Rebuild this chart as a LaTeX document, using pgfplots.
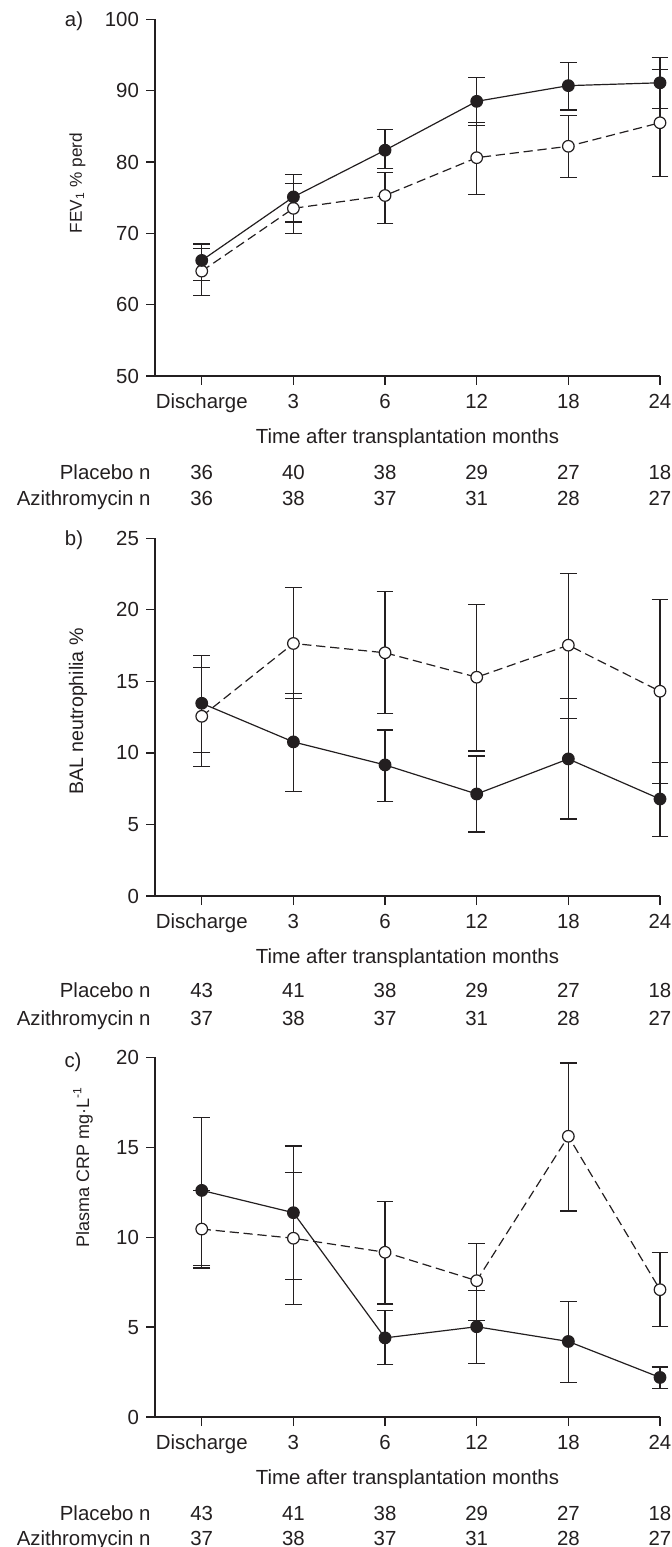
\documentclass[border=0pt]{standalone}
\usepackage{fontspec}
\setmainfont{Liberation Sans}
\usepackage{pgfplots}
\pgfplotsset{compat=1.18}

\definecolor{ink}{RGB}{35,31,32}
\newcommand{\lbl}{\fontsize{10.2}{12}\selectfont}

% one row of group sizes under a panel: ymin, shift, label, six counts
\newcommand{\nrow}[9]{%
  \node[anchor=base east, xshift=-2pt, yshift=#2, font=\lbl, text=ink, inner sep=0pt] at (axis cs:-0.51,#1) {#3};
  \node[anchor=base, yshift=#2, font=\lbl, text=ink, inner sep=0pt] at (axis cs:0,#1) {#4};
  \node[anchor=base, yshift=#2, font=\lbl, text=ink, inner sep=0pt] at (axis cs:1,#1) {#5};
  \node[anchor=base, yshift=#2, font=\lbl, text=ink, inner sep=0pt] at (axis cs:2,#1) {#6};
  \node[anchor=base, yshift=#2, font=\lbl, text=ink, inner sep=0pt] at (axis cs:3,#1) {#7};
  \node[anchor=base, yshift=#2, font=\lbl, text=ink, inner sep=0pt] at (axis cs:4,#1) {#8};
  \node[anchor=base, yshift=#2, font=\lbl, text=ink, inner sep=0pt] at (axis cs:5,#1) {#9};
}

\pgfplotsset{
  panel/.style={
    scale only axis, width=252.5pt, clip=false,
    xmin=-0.51, xmax=5,
    axis x line*=bottom, axis y line*=left,
    axis line style={ink, line width=0.6pt, -},
    tick align=outside, major tick length=4.5pt,
    tick style={ink, line width=0.6pt},
    xtick={0,...,5},
    xticklabels={Discharge,3,6,12,18,24},
    ticklabel style={font=\lbl, text=ink},
    xticklabel style={yshift=-1pt},
    /pgf/number format/assume math mode=true,
  },
  werr/.style={
    error bars/y dir=both, error bars/y explicit,
    error bars/error bar style={solid, line width=0.6pt, ink},
    error bars/error mark options={solid, ink, line width=0.6pt, mark size=4.2pt, rotate=90},
  },
  azi/.style={werr, ink, line width=0.6pt, mark=*, mark size=2.9pt,
    mark options={solid, fill=ink, draw=ink}},
  pla/.style={werr, ink, line width=0.6pt, dash pattern=on 4.6pt off 2.4pt, mark=*, mark size=2.9pt,
    mark options={solid, fill=white, draw=ink}},
}

\begin{document}
\begin{tikzpicture}
\useasboundingbox (0,0) rectangle (336pt,-773.5pt);

% ---------- a) ----------
\begin{axis}[panel, height=178.35pt, at={(77.5pt,-9.65pt)}, anchor=north west,
  ymin=50, ymax=100, ytick={50,60,...,100}]
  \addplot[pla] coordinates {
    (0,64.7) += (0,3.2) -= (0,3.4)
    (1,73.5) += (0,3.5) -= (0,3.55)
    (2,75.3) += (0,3.2) -= (0,3.9)
    (3,80.6) += (0,4.9) -= (0,5.15)
    (4,82.2) += (0,4.35) -= (0,4.4)
    (5,85.5) += (0,7.5) -= (0,7.5)
  };
  \addplot[azi] coordinates {
    (0,66.2) += (0,2.3) -= (0,2.8)
    (1,75.1) += (0,3.2) -= (0,3.5)
    (2,81.65) += (0,2.85) -= (0,2.55)
    (3,88.5) += (0,3.3) -= (0,3.35)
    (4,90.7) += (0,3.3) -= (0,3.4)
    (5,91.1) += (0,3.6) -= (0,3.6)
  };
  \node[anchor=base, yshift=-33.8pt, font=\lbl, text=ink, inner sep=0pt] at (axis cs:2.245,50) {Time after transplantation months};
  \nrow{50}{-52pt}{Placebo n}{36}{40}{38}{29}{27}{18}
  \nrow{50}{-64.8pt}{Azithromycin n}{36}{38}{37}{31}{28}{27}
\end{axis}

% ---------- b) ----------
\begin{axis}[panel, height=178.85pt, at={(77.5pt,-269.15pt)}, anchor=north west,
  ymin=0, ymax=25, ytick={0,5,...,25}]
  \addplot[pla] coordinates {
    (0,12.56) += (0,3.43) -= (0,3.49)
    (1,17.65) += (0,3.89) -= (0,3.87)
    (2,17.0) += (0,4.28) -= (0,4.27)
    (3,15.29) += (0,5.08) -= (0,5.15)
    (4,17.53) += (0,5.03) -= (0,5.15)
    (5,14.31) += (0,6.41) -= (0,6.43)
  };
  \addplot[azi] coordinates {
    (0,13.47) += (0,3.33) -= (0,3.42)
    (1,10.77) += (0,3.4) -= (0,3.45)
    (2,9.16) += (0,2.44) -= (0,2.54)
    (3,7.13) += (0,2.66) -= (0,2.66)
    (4,9.58) += (0,4.2) -= (0,4.2)
    (5,6.78) += (0,2.57) -= (0,2.6)
  };
  \node[anchor=base, yshift=-33.8pt, font=\lbl, text=ink, inner sep=0pt] at (axis cs:2.245,0) {Time after transplantation months};
  \nrow{0}{-50.5pt}{Placebo n}{43}{41}{38}{29}{27}{18}
  \nrow{0}{-64.8pt}{Azithromycin n}{37}{38}{37}{31}{28}{27}
\end{axis}

% ---------- c) ----------
\begin{axis}[panel, height=179.85pt, at={(77.5pt,-528.65pt)}, anchor=north west,
  ymin=0, ymax=20, ytick={0,5,...,20}]
  \addplot[pla] coordinates {
    (0,10.45) += (0,2.15) -= (0,2.16)
    (1,9.94) += (0,3.65) -= (0,3.69)
    (2,9.16) += (0,2.83) -= (0,2.88)
    (3,7.58) += (0,2.07) -= (0,2.21)
    (4,15.61) += (0,4.07) -= (0,4.16)
    (5,7.08) += (0,2.05) -= (0,2.04)
  };
  \addplot[azi] coordinates {
    (0,12.6) += (0,4.07) -= (0,4.16)
    (1,11.36) += (0,3.71) -= (0,3.72)
    (2,4.4) += (0,1.53) -= (0,1.47)
    (3,5.02) += (0,2.02) -= (0,2.05)
    (4,4.2) += (0,2.23) -= (0,2.27)
    (5,2.2) += (0,0.58) -= (0,0.6)
  };
  \node[anchor=base, yshift=-33.8pt, font=\lbl, text=ink, inner sep=0pt] at (axis cs:2.245,0) {Time after transplantation months};
  \nrow{0}{-51.5pt}{Placebo n}{43}{41}{38}{29}{27}{18}
  \nrow{0}{-64.3pt}{Azithromycin n}{37}{38}{37}{31}{28}{27}
\end{axis}

% panel letters and y labels
\node[font=\lbl, text=ink] at (37pt,-10.4pt) {a)};
\node[font=\lbl, text=ink] at (37pt,-270pt) {b)};
\node[font=\lbl, text=ink] at (36.5pt,-531pt) {c)};
\node[font=\fontsize{8.6}{10}\selectfont, text=ink, rotate=90] at (38.75pt,-91.5pt) {FEV\textsubscript{1} \% perd};
\node[font=\fontsize{9.8}{12}\selectfont, text=ink, rotate=90] at (39pt,-355.8pt) {BAL neutrophilia \%};
\node[font=\fontsize{9}{11}\selectfont, text=ink, rotate=90] at (41.5pt,-583.7pt) {Plasma CRP mg·L\textsuperscript{-1}};
\end{tikzpicture}
\end{document}
